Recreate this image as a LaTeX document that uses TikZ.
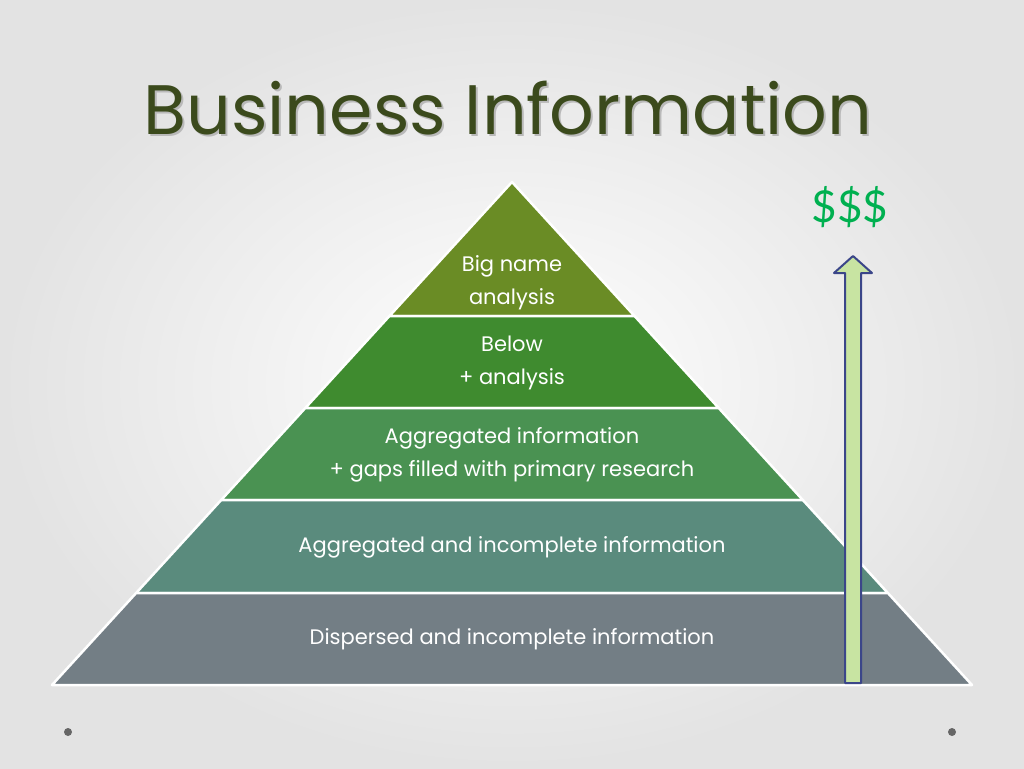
\documentclass[tikz,border=0pt]{standalone}
\usepackage{fontspec}
\setmainfont{Poppins}
\newfontfamily\bodyf{Lato}
\definecolor{c1}{HTML}{6A8C25}
\definecolor{c2}{HTML}{3F8B2F}
\definecolor{c3}{HTML}{4A9252}
\definecolor{c4}{HTML}{5A8B7D}
\definecolor{c5}{HTML}{737E85}
\definecolor{ttl}{HTML}{3B4A1C}
\definecolor{arrf}{HTML}{C8E4A2}
\definecolor{arrd}{HTML}{3B4689}
\definecolor{dol}{HTML}{00B050}
\begin{document}
\begin{tikzpicture}[x=1pt,y=-1pt,
  lay/.style={draw=white,line width=2.5pt,line join=round},
  lbl/.style={text=white,font=\fontsize{21}{24}\selectfont,align=center}]
\useasboundingbox (0,0) rectangle (1024,768);
\shade[inner color=white,outer color=gray!22] (0,0) rectangle (1024,768);
\def\k{0.9145}
\foreach \ya/\yb/\c in {182/316/c1,316/408/c2,408/500/c3,500/593/c4,593/685/c5}{
  \pgfmathsetmacro\xa{\k*(\ya-182)}
  \pgfmathsetmacro\xb{\k*(\yb-182)}
  \filldraw[lay,fill=\c] (512-\xa,\ya) -- (512+\xa,\ya) -- (512+\xb,\yb) -- (512-\xb,\yb) -- cycle;
}
\node[lbl] (t1) at (512,283) {Big name\\[9pt]analysis};
\node[lbl] (t2) at (512,363) {Below\\[9pt]+ analysis};
\node[lbl] (t3) at (512,455) {Aggregated information\\[9pt]+ gaps filled with primary research};
\node[lbl] (t4) at (512,547) {Aggregated and incomplete information};
\node[lbl] (t5) at (512,639) {Dispersed and incomplete information};
\filldraw[fill=arrf,draw=arrd,line width=2pt,line join=round]
  (845,683) -- (845,273) -- (834,273) -- (853,256) -- (872,273) -- (861,273) -- (861,683) -- cycle;
\node[text=gray!55,font=\fontsize{70}{74}\selectfont] at (510,110) {Business Information};
\node[text=ttl,font=\fontsize{70}{74}\selectfont] (title) at (508,108) {Business Information};
\node[text=dol,font=\bodyf\fontsize{44}{48}\selectfont] (dollar) at (850,207) {\$\$\$};
\fill[gray!80!black] (68,732) circle (4);
\fill[gray!80!black] (952,732) circle (4);
\end{tikzpicture}
\end{document}
